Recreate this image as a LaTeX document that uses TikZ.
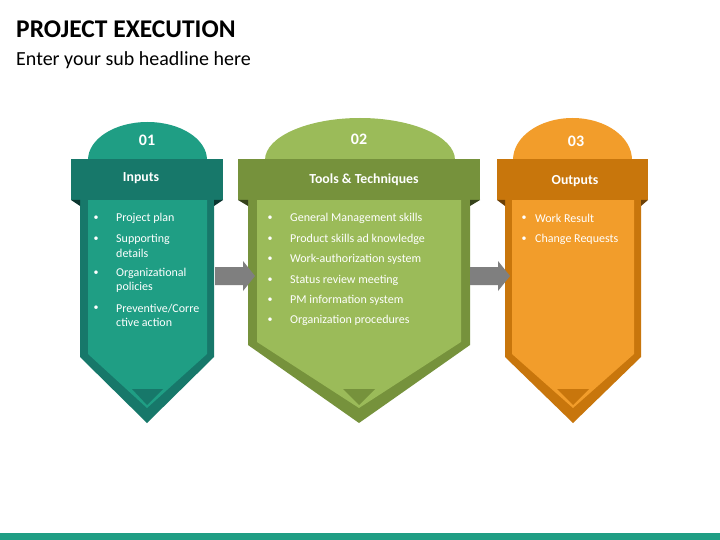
\documentclass[tikz,border=0pt]{standalone}
\usepackage{fontspec}
\setmainfont{Carlito}
\begin{document}
\begin{tikzpicture}[x=1pt,y=-1pt,
  wt/.style={text=white,inner sep=0pt},
  num/.style={wt,font=\fontsize{16}{16}\selectfont\bfseries},
  hdr/.style={wt,font=\fontsize{13.8}{14}\selectfont\bfseries},
  itm/.style={wt,anchor=west,font=\fontsize{12}{14.5}\selectfont,align=left},
  bul/.style={wt,font=\fontsize{10}{10}\selectfont},
  garrow/.style={fill=arrowgray,draw=none}]
\definecolor{tealL}{HTML}{1F9E84}\definecolor{tealD}{HTML}{17786A}
\definecolor{grnL}{HTML}{9BBB59}\definecolor{grnD}{HTML}{76923C}
\definecolor{orgL}{HTML}{F29D2B}\definecolor{orgD}{HTML}{C8760C}
\definecolor{arrowgray}{HTML}{7F7F7F}
\useasboundingbox (0,0) rectangle (720,540);
\fill[white] (0,0) rectangle (720,540);
\fill[tealL] (0,533) rectangle (720,540);
\node[anchor=west,inner sep=0pt,font=\fontsize{25.5}{26}\selectfont\bfseries] (title) at (16,29) {PROJECT EXECUTION};
\node[anchor=west,inner sep=0pt,font=\fontsize{20}{20}\selectfont] (sub) at (16,60) {Enter your sub headline here};
% col 1
\fill[tealL] (88,160) arc[start angle=180,end angle=360,x radius=59.5,y radius=38];
\fill[tealD] (80,200) -- (214,200) -- (214,357) -- (147,423) -- (80,357) -- cycle;
\fill[tealL] (88,200) -- (207,200) -- (207,354) -- (147,408) -- (88,354) -- cycle;
\fill[tealD] (132,389) -- (163,389) -- (147,405) -- cycle;
\fill[tealD] (71,159) rectangle (223,200);
\fill[black!55!tealD] (71,200) -- (80,200) -- (80,206) -- cycle;
\fill[black!55!tealD] (223,200) -- (214,200) -- (214,206) -- cycle;
% col 2
\fill[grnL] (265,160) arc[start angle=180,end angle=360,x radius=95,y radius=42];
\fill[grnD] (248,200) -- (470,200) -- (470,345) -- (359,423) -- (248,345) -- cycle;
\fill[grnL] (257,200) -- (461,200) -- (461,342) -- (359,408) -- (257,342) -- cycle;
\fill[grnD] (343,389) -- (375,389) -- (359,405) -- cycle;
\fill[grnD] (238,159) rectangle (480,200);
\fill[black!55!grnD] (238,200) -- (248,200) -- (248,206) -- cycle;
\fill[black!55!grnD] (480,200) -- (470,200) -- (470,206) -- cycle;
% col 3
\fill[orgL] (513,160) arc[start angle=180,end angle=360,x radius=59.5,y radius=42];
\fill[orgD] (505,200) -- (641,200) -- (641,357) -- (573,423) -- (505,357) -- cycle;
\fill[orgL] (512,200) -- (634,200) -- (634,354) -- (573,408) -- (512,354) -- cycle;
\fill[orgD] (557,389) -- (589,389) -- (573,405) -- cycle;
\fill[orgD] (497,159) rectangle (648,200);
\fill[black!45!orgD] (497,200) -- (505,200) -- (505,206) -- cycle;
\fill[black!45!orgD] (648,200) -- (641,200) -- (641,206) -- cycle;
% arrows
\fill[garrow] (215,267) -- (243,267) -- (243,261) -- (255,276) -- (243,291) -- (243,285) -- (215,285) -- cycle;
\fill[garrow] (470,267) -- (498,267) -- (498,261) -- (510,276) -- (498,291) -- (498,285) -- (470,285) -- cycle;
% texts
\node[num] (n1) at (147,140) {01};
\node[num] (n2) at (359,139) {02};
\node[num] (n3) at (576,141) {03};
\node[hdr] (h1) at (141,178) {Inputs};
\node[hdr] (h2) at (364,180) {Tools \& Techniques};
\node[hdr] (h3) at (575,181) {Outputs};
% col1 items
\foreach \y in {218,239,273,308} \node[bul] at (96,\y) {•};
\node[itm] (a1) at (116,218) {Project plan};
\node[itm] (a2) at (116,246) {Supporting\\details};
\node[itm] (a3) at (116,280.5) {Organizational\\policies};
\node[itm] (a4) at (116,315.5) {Preventive/Corre\\ctive action};
% col2
\foreach \y/\t [count=\i] in {218/General Management skills,239/Product skills ad knowledge,259/Work-authorization system,280/Status review meeting,300/PM information system,320/Organization procedures}{
  \node[bul] at (270,\y) {•};
  \node[itm] (b\i) at (290,\y) {\t};}
% col3
\node[bul] at (524,218) {•};
\node[itm] (c1) at (535,218) {Work Result};
\node[bul] at (524,239) {•};
\node[itm] (c2) at (535,239) {Change Requests};
\end{tikzpicture}
\end{document}
